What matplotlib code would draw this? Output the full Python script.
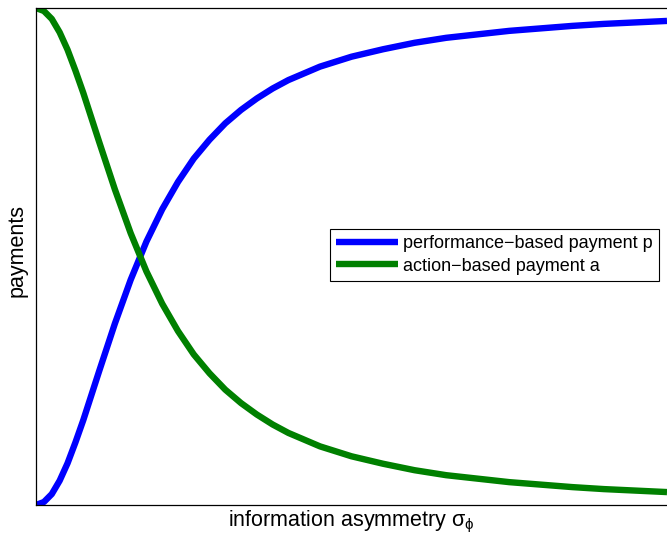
import numpy as np
import matplotlib.pyplot as plt

plt.rcParams['font.family'] = ['Liberation Sans', 'DejaVu Sans']
plt.rcParams['mathtext.fontset'] = 'custom'
plt.rcParams['mathtext.rm'] = 'Liberation Sans'
plt.rcParams['mathtext.it'] = 'Liberation Sans:italic'

# information asymmetry (arbitrary units)
sigma = [0.0, 0.125, 0.25, 0.375, 0.5, 0.625, 0.75, 0.875, 1.0, 1.25, 1.5,
         1.75, 2.0, 2.25, 2.5, 2.75, 3.0, 3.25, 3.5, 3.75, 4.0, 4.5, 5.0, 5.5,
         6.0, 6.5, 7.0, 7.5, 8.0, 8.5, 9.0, 9.5, 10.0]

# performance-based payment p
pago_p = [0.0, 0.006, 0.022, 0.049, 0.084, 0.126, 0.171, 0.220, 0.269, 0.365,
          0.453, 0.530, 0.595, 0.650, 0.697, 0.735, 0.768, 0.795, 0.818, 0.838,
          0.855, 0.882, 0.902, 0.917, 0.930, 0.940, 0.947, 0.954, 0.959, 0.964,
          0.968, 0.971, 0.974]

# action-based payment a
pago_a = [1.0, 0.994, 0.978, 0.951, 0.916, 0.874, 0.829, 0.780, 0.731, 0.635,
          0.547, 0.470, 0.405, 0.350, 0.303, 0.265, 0.232, 0.205, 0.182, 0.162,
          0.145, 0.118, 0.098, 0.083, 0.070, 0.060, 0.053, 0.046, 0.041, 0.036,
          0.032, 0.029, 0.026]

fig = plt.figure(figsize=(6.67, 5.37), dpi=100)
ax = fig.add_axes([36 / 667, 32 / 537, 631 / 667, 497 / 537])

ax.plot(sigma, pago_p, color=(0, 0, 1), lw=4.6, solid_capstyle='butt',
        solid_joinstyle='round', label='performance\u2212based payment p')
ax.plot(sigma, pago_a, color=(0, 0.5, 0), lw=4.6, solid_capstyle='butt',
        solid_joinstyle='round', label='action\u2212based payment a')

ax.set_xlim(0, 10)
ax.set_ylim(0, 1)
ax.set_xticks([])
ax.set_yticks([])
ax.spines['right'].set_visible(False)
for s in ['left', 'top', 'bottom']:
    ax.spines[s].set_linewidth(0.9)

ax.set_xlabel(r'information asymmetry $\mathregular{\sigma_{\phi}}$',
              fontsize=15.5, labelpad=3)
ax.set_ylabel('payments', fontsize=15.5)
ax.yaxis.set_label_coords(-0.014, 0.513)

leg = ax.legend(loc='upper left', bbox_to_anchor=(330 / 667, 1 - 229 / 537),
                bbox_transform=fig.transFigure, fontsize=13, fancybox=False,
                framealpha=1, edgecolor='black', handlelength=3.4,
                handletextpad=0.28, borderpad=0.35, labelspacing=0.3,
                borderaxespad=0)
leg.get_frame().set_linewidth(0.8)

fig.savefig('out.png', dpi=100)
